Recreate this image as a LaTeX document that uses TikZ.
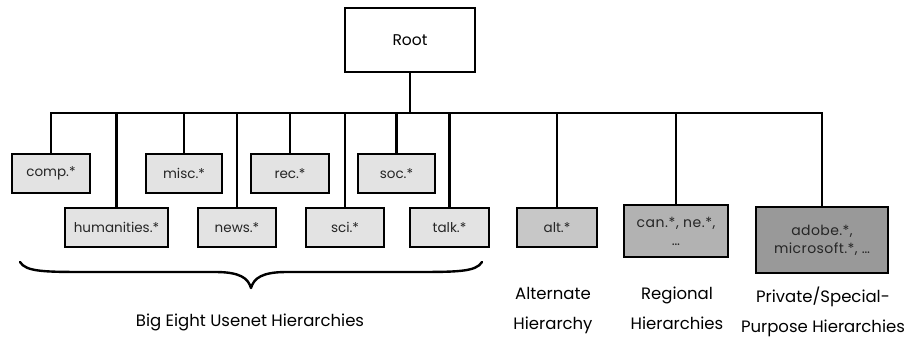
\documentclass[tikz,border=0pt]{standalone}
\usepackage{fontspec}
\setmainfont{Poppins}
\begin{document}
\begin{tikzpicture}[x=1pt,y=-1pt,
  box/.style={draw=black,line width=1.8pt,minimum height=39pt,inner sep=1pt,font=\fontsize{13.5}{16}\selectfont,text=black!85},
  bige/.style={box,fill=black!11},
  stem/.style={line width=2.6pt},
  lab/.style={font=\fontsize{16.5}{30}\selectfont,align=center,inner sep=0pt}]
\useasboundingbox (0,0) rectangle (907,347);
\node[draw=black,line width=1.8pt,fill=white,minimum width=130pt,minimum height=64pt,font=\fontsize{15.5}{18}\selectfont] (root) at (410,40) {Root};
\node[bige,minimum width=78pt] (comp) at (51,173.5) {comp.*};
\node[bige,minimum width=76pt] (misc) at (184,173.5) {misc.*};
\node[bige,minimum width=78pt] (rec) at (290,173.5) {rec.*};
\node[bige,minimum width=77pt] (soc) at (396.5,173.5) {soc.*};
\node[bige,minimum width=103pt] (hum) at (116.5,227.5) {humanities.*};
\node[bige,minimum width=78pt] (news) at (237,227.5) {news.*};
\node[bige,minimum width=78pt] (sci) at (345,227.5) {sci.*};
\node[bige,minimum width=79pt] (talk) at (449.5,227.5) {talk.*};
\node[box,fill=black!22,minimum width=80pt] (alt) at (557,227.5) {alt.*};
\node[box,fill=black!30,minimum width=104pt,minimum height=52pt,align=center,font=\fontsize{14}{18}\selectfont\addfontfeature{LetterSpace=4}] (can) at (676,231) {can.*,\ ne.*,\\\ldots};
\node[box,fill=black!40,minimum width=132pt,minimum height=66pt,align=center,font=\fontsize{14}{18}\selectfont\addfontfeature{LetterSpace=3}] (adobe) at (822,240) {adobe.*,\\microsoft.*,\ \ldots};
\coordinate (bus) at (0,113);
\draw[stem] (root.south) -- (root.south |- bus);
\draw[stem,line cap=rect] (comp.north |- bus) -- (adobe.north |- bus);
\foreach \n in {comp,misc,rec,soc,hum,news,sci,talk,alt,can,adobe}
  \draw[stem] (\n.north |- bus) -- (\n.north);
\draw[line width=2.4pt,line cap=round,line join=round]
  (20,262) .. controls (26,272) and (45,272) .. (90,272)
  -- (215,272) .. controls (240,272) and (248,278) .. (251,288)
  .. controls (254,278) and (262,272) .. (287,272)
  -- (412,272) .. controls (457,272) and (476,272) .. (482,262);
\node[lab] (big) at (250,322) {Big Eight Usenet Hierarchies};
\node[lab,anchor=north] (altl) at (553,287) {Alternate\\Hierarchy};
\node[lab,anchor=north] (regl) at (677,287) {Regional\\Hierarchies};
\node[lab,anchor=north] (privl) at (823,287) {Private/Special-\\Purpose Hierarchies};
\end{tikzpicture}
\end{document}
